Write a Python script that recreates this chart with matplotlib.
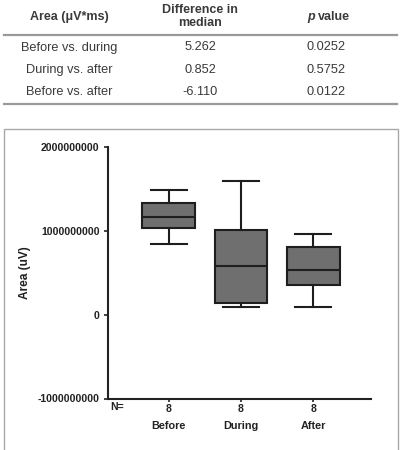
import matplotlib
matplotlib.use("Agg")
import matplotlib.pyplot as plt
from matplotlib.lines import Line2D
from matplotlib.patches import Rectangle
import matplotlib.transforms as mtransforms

# ---- data ----
categories = ["Before", "During", "After"]
n_counts = [8, 8, 8]
whis_low = [0.84e9, 0.09e9, 0.09e9]
q1 = [1.03e9, 0.14e9, 0.355e9]
median = [1.16e9, 0.575e9, 0.53e9]
q3 = [1.325e9, 1.01e9, 0.805e9]
whis_high = [1.48e9, 1.595e9, 0.965e9]

yticks = [-1000000000, 0, 1000000000, 2000000000]

table_header = ["Area (μV*ms)", "Difference in\nmedian", "p", "value"]
row_labels = ["Before vs. during", "During vs. after", "Before vs. after"]
diff_median = ["5.262", "0.852", "-6.110"]
p_values = ["0.0252", "0.5752", "0.0122"]

W, H = 403, 450
fig = plt.figure(figsize=(W / 100, H / 100), dpi=100)
plt.rcParams['font.family'] = ['Liberation Sans', 'DejaVu Sans']

def fx(x):
    return x / W

def fy(y):
    return 1 - y / H

# ---- table ----
tc = "#3a3a3a"
col_x = [69, 200, 326]
fig.text(fx(col_x[0]), fy(17), table_header[0], ha="center", va="center",
         fontsize=9, fontweight="bold", color=tc)
fig.text(fx(col_x[1]), fy(16.2), table_header[1], ha="center", va="center",
         fontsize=9, fontweight="bold", color=tc, linespacing=1.15)
fig.text(fx(315), fy(17), table_header[2], ha="right", va="center",
         fontsize=9, fontweight="bold", fontstyle="italic", color=tc)
fig.text(fx(317.5), fy(17), table_header[3], ha="left", va="center",
         fontsize=9, fontweight="bold", color=tc)

row_y = [47.5, 70, 92]
for i, ry in enumerate(row_y):
    fig.text(fx(col_x[0]), fy(ry), row_labels[i], ha="center", va="center",
             fontsize=9.2, color=tc)
    fig.text(fx(col_x[1]), fy(ry), diff_median[i], ha="center", va="center",
             fontsize=9.2, color=tc)
    fig.text(fx(col_x[2]), fy(ry), p_values[i], ha="center", va="center",
             fontsize=9.2, color=tc)

for ly in (34.5, 103.5):
    fig.add_artist(Line2D([fx(4), fx(397)], [fy(ly), fy(ly)],
                          color="#9a9a9a", lw=1.6, transform=fig.transFigure))

# ---- frame around chart ----
fig.add_artist(Rectangle((fx(3.5), fy(455)), fx(397.5) - fx(3.5), fy(128.5) - fy(455),
                         fill=False, edgecolor="#a8a8a8", lw=1.0,
                         transform=fig.transFigure))

# ---- box plot ----
ax = fig.add_axes([fx(108), fy(398.5), fx(370.5) - fx(108), fy(146.7) - fy(398.5)])
positions = list(range(1, len(categories) + 1))
stats = []
for i, c in enumerate(categories):
    stats.append(dict(label=c, whislo=whis_low[i], q1=q1[i], med=median[i],
                      q3=q3[i], whishi=whis_high[i], fliers=[]))
ec = "#1e1e1e"
ax.bxp(stats, positions=positions, widths=0.73, patch_artist=True,
       showfliers=False,
       boxprops=dict(facecolor="#6f6f6f", edgecolor=ec, linewidth=1.5),
       medianprops=dict(color=ec, linewidth=1.5),
       whiskerprops=dict(color=ec, linewidth=1.5),
       capprops=dict(color=ec, linewidth=1.5),
       capwidths=0.5)

ax.set_xlim(0.16, 3.79)
ax.set_ylim(-1e9, 2e9)
ax.set_yticks(yticks)
ax.set_yticklabels([str(v) for v in yticks], fontsize=7.6, fontweight="bold",
                   color="#222222")
ax.set_xticks(positions)
ax.set_xticklabels([str(n) for n in n_counts], fontsize=7.6, fontweight="bold",
                   color="#222222")
ax.tick_params(axis="y", length=3, width=1.2, pad=3, colors="#222222")
ax.tick_params(axis="x", length=2, width=1.2, pad=2, colors="#222222")
for s in ("top", "right"):
    ax.spines[s].set_visible(False)
for s in ("left", "bottom"):
    ax.spines[s].set_linewidth(1.5)
    ax.spines[s].set_color("#222222")

ax.set_ylabel("Area (uV)", fontsize=8.6, fontweight="bold", color="#222222",
              labelpad=5)

blend = mtransforms.blended_transform_factory(ax.transData, ax.transAxes)
ax.text(0.01, -0.015, "N=", transform=ax.transAxes, ha="left", va="top",
        fontsize=7.6, fontweight="bold", color="#222222")
for p, c in zip(positions, categories):
    ax.annotate(c, xy=(p, 0), xycoords=blend, xytext=(0, -16),
                textcoords="offset points", ha="center", va="top",
                fontsize=7.8, fontweight="bold", color="#222222")

fig.savefig("out.png", dpi=100)
